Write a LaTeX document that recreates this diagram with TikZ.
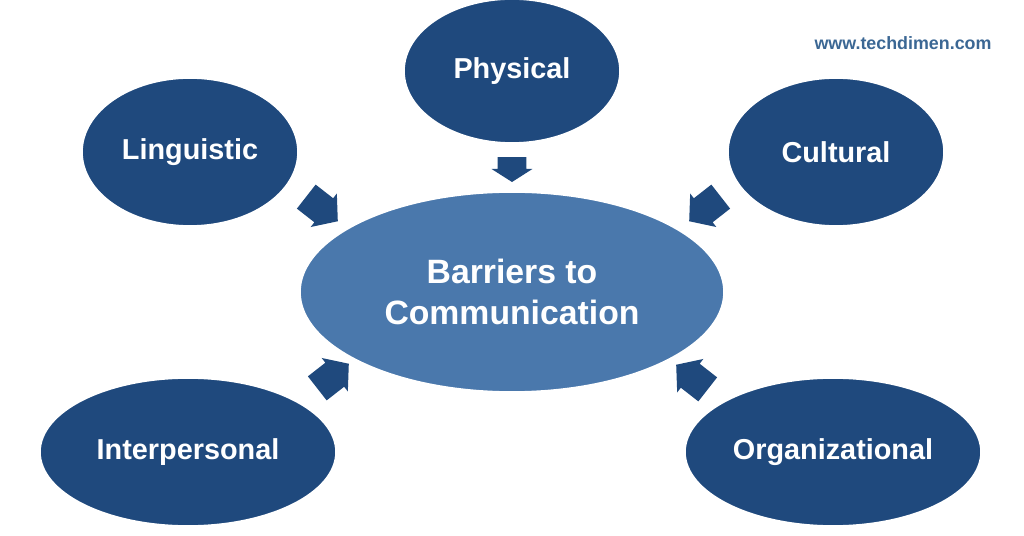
\documentclass[tikz,border=0pt]{standalone}
\usepackage{fontspec}
\setmainfont{Liberation Sans}
\usepackage{tikz}
\usetikzlibrary{shapes.geometric,shapes.arrows}

\definecolor{navy}{HTML}{1F497D}
\definecolor{midblue}{HTML}{4A78AC}
\definecolor{markblue}{HTML}{3B6794}

\begin{document}
\begin{tikzpicture}[x=0.025cm, y=-0.025cm,
    every node/.style={ellipse, draw=white, line width=1.2pt, text=white, font=\bfseries\fontsize{20.5}{24}\selectfont, inner sep=0pt},
    outer/.style={fill=navy, minimum width=5.4cm, minimum height=3.7cm},
    wide/.style={outer, minimum width=7.4cm},
    blockarrow/.style={single arrow, draw=none, fill=navy, inner xsep=0.05cm, inner ysep=0.36cm, minimum height=1.0cm, single arrow head extend=0.15cm, single arrow tip angle=100}
    ]
    \useasboundingbox (0,0) rectangle (1024,536);

    % Centre node
    \node[fill=midblue, minimum width=10.6cm, minimum height=5.0cm, align=center,
          font=\bfseries\fontsize{24}{29}\selectfont] (barriers) at (512,292) {Barriers to\\Communication};

    % Outer nodes
    \node[outer, minimum height=3.6cm] (phys) at (512,71) {Physical};
    \node[outer] (ling) at (190,152) {Linguistic};
    \node[outer] (cult) at (836,152) {Cultural};
    \node[wide] (inter) at (188,452) {Interpersonal};
    \node[wide] (org) at (833,452) {Organizational};

    % Arrows into the centre
    \node[blockarrow, minimum height=0.62cm, inner ysep=0.34cm, single arrow tip angle=115, rotate=-90] (aphys) at (512,165) {};
    \node[blockarrow, rotate=-38] (aling) at (317,205) {};
    \node[blockarrow, rotate=218] (acult) at (710,205) {};
    \node[blockarrow, rotate=38] (ainter) at (328,380) {};
    \node[blockarrow, rotate=142] (aorg) at (697,381) {};

    % Watermark
    \node[draw=none, rectangle, text=markblue, font=\bfseries\fontsize{12.7}{15}\selectfont] (mark) at (903,43) {www.techdimen.com};
\end{tikzpicture}
\end{document}
